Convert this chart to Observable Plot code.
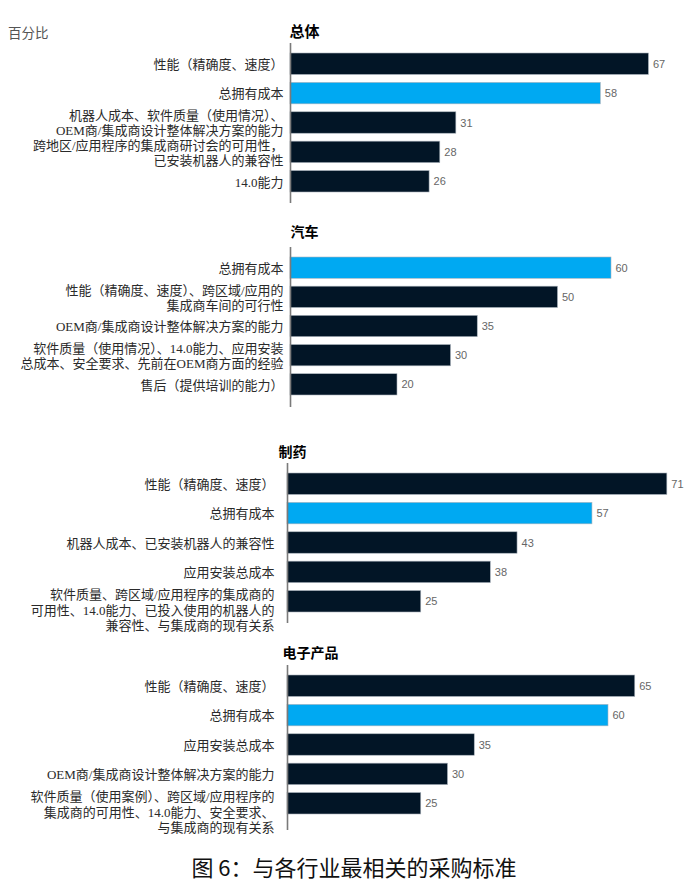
<!DOCTYPE html>
<html>
<head>
<meta charset="utf-8">
<script src="https://cdn.jsdelivr.net/npm/d3@7"></script>
<script src="https://cdn.jsdelivr.net/npm/@observablehq/plot@0.6"></script>
<style>
  html, body { margin: 0; padding: 0; background: #fff; }
  #wrap { position: relative; width: 688px; height: 892px; overflow: hidden; }
  #wrap svg { position: absolute; left: 0; overflow: visible; }
  .unit { position: absolute; left: 8px; top: 22px; font: 13.5px "Noto Sans CJK SC", sans-serif; color: #555; }
  .caption { position: absolute; left: 0; width: 708px; top: 850px; text-align: center;
             font: 22px "Noto Sans CJK SC", sans-serif; color: #111; }
</style>
</head>
<body>
<div id="wrap">
  <div class="unit">百分比</div>
  <div class="caption">图 6：与各行业最相关的采购标准</div>
</div>
<script>
// ---- data ----
const panelTitles = ["总体", "汽车", "制药", "电子产品"];

const overallLabels = [
  "性能（精确度、速度）",
  "总拥有成本",
  "机器人成本、软件质量（使用情况）、\nOEM商/集成商设计整体解决方案的能力",
  "跨地区/应用程序的集成商研讨会的可用性，\n已安装机器人的兼容性",
  "14.0能力"
];
const overallValues = [67, 58, 31, 28, 26];

const autoLabels = [
  "总拥有成本",
  "性能（精确度、速度）、跨区域/应用的\n集成商车间的可行性",
  "OEM商/集成商设计整体解决方案的能力",
  "软件质量（使用情况）、14.0能力、应用安装\n总成本、安全要求、先前在OEM商方面的经验",
  "售后（提供培训的能力）"
];
const autoValues = [60, 50, 35, 30, 20];

const pharmaLabels = [
  "性能（精确度、速度）",
  "总拥有成本",
  "机器人成本、已安装机器人的兼容性",
  "应用安装总成本",
  "软件质量、跨区域/应用程序的集成商的\n可用性、14.0能力、已投入使用的机器人的\n兼容性、与集成商的现有关系"
];
const pharmaValues = [71, 57, 43, 38, 25];

const elecLabels = [
  "性能（精确度、速度）",
  "总拥有成本",
  "应用安装总成本",
  "OEM商/集成商设计整体解决方案的能力",
  "软件质量（使用案例）、跨区域/应用程序的\n集成商的可用性、14.0能力、安全要求、\n与集成商的现有关系"
];
const elecValues = [65, 60, 35, 30, 25];

const highlightLabel = "总拥有成本";

// ---- layout (page pixels) ----
const layouts = [
  {axisTop: 43,  axisBottom: 203, barTop: 53,  barBottom: 192, axisX: 290, titleX: 289, titleSize: 15, titleY: 32, pad: 7},
  {axisTop: 247, axisBottom: 407, barTop: 257, barBottom: 395, axisX: 290, titleX: 290, titleSize: 14, titleY: 232, pad: 7},
  {axisTop: 463, axisBottom: 623, barTop: 473, barBottom: 612, axisX: 287, titleX: 278, titleSize: 14, titleY: 452, pad: 13},
  {axisTop: 665, axisBottom: 830, barTop: 675, barBottom: 814, axisX: 287, titleX: 282, titleSize: 14, titleY: 653, pad: 13}
];
const labelSets = [overallLabels, autoLabels, pharmaLabels, elecLabels];
const valueSets = [overallValues, autoValues, pharmaValues, elecValues];

const W = 688, pxPerUnit = 5.35, mTop = 25, mBottom = 16;
const dark = "#021526", blue = "#00A9F2";
const labelFont = '"Liberation Serif", "Noto Sans CJK SC", serif';
const wrap = document.getElementById("wrap");

panelTitles.forEach((title, i) => {
  const L = layouts[i];
  const data = labelSets[i].map((label, j) => ({label, value: valueSets[i][j]}));
  const short = data.filter(d => d.label.split("\n").length < 3);
  const tall = data.filter(d => d.label.split("\n").length >= 3);
  const h = mTop + (L.axisBottom - L.axisTop) + mBottom;
  const svg = Plot.plot({
    width: W,
    height: h,
    marginLeft: L.axisX,
    marginRight: 0,
    marginTop: mTop,
    marginBottom: mBottom,
    style: {background: "transparent", overflow: "visible"},
    x: {domain: [0, (W - L.axisX) / pxPerUnit], axis: null},
    y: {domain: labelSets[i], axis: null, range: [mTop + L.barTop - L.axisTop, mTop + L.barBottom - L.axisTop],
        paddingInner: 0.27, paddingOuter: 0, round: false},
    marks: [
      Plot.barX(data, {x: "value", y: "label",
        fill: d => d.label === highlightLabel ? blue : dark,
        stroke: "#aab3bc", strokeWidth: 0.6}),
      Plot.ruleX([0], {stroke: "#7a7a7a", strokeWidth: 1.6}),
      Plot.text(data, {x: "value", y: "label", text: d => String(d.value), dx: 4, textAnchor: "start",
        fill: "#666", fontSize: 11, fontFamily: '"Liberation Sans", Arial, sans-serif'}),
      Plot.text(short, {y: "label", text: "label", frameAnchor: "left", dx: -L.pad, textAnchor: "end",
        lineHeight: 1.17, fill: "#2a2a2a", fontSize: 13, fontFamily: labelFont}),
      Plot.text(tall, {y: "label", text: "label", frameAnchor: "left", dx: -L.pad, dy: 8, textAnchor: "end",
        lineHeight: 1.19, fill: "#2a2a2a", fontSize: 13, fontFamily: labelFont}),
      Plot.text([title], {frameAnchor: "top-left", dx: L.titleX - L.axisX, dy: L.titleY - L.axisTop,
        textAnchor: "start", lineAnchor: "middle",
        fontWeight: "bold", fontSize: L.titleSize, fill: "#000", fontFamily: '"Noto Sans CJK SC", sans-serif'})
    ]
  });
  svg.style.top = (L.axisTop - mTop) + "px";
  wrap.appendChild(svg);
});
</script>
</body>
</html>
